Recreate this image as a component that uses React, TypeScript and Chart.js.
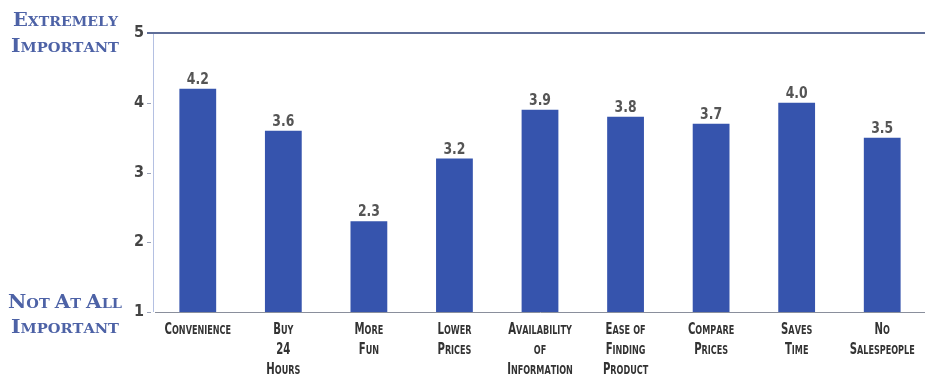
import React, { useEffect, useRef } from "react";
import { Chart, registerables } from "chart.js";

Chart.register(...registerables);

const categories: string[][] = [
  ["Convenience"],
  ["Buy", "24", "Hours"],
  ["More", "Fun"],
  ["Lower", "Prices"],
  ["Availability", "of", "Information"],
  ["Ease of", "Finding", "Product"],
  ["Compare", "Prices"],
  ["Saves", "Time"],
  ["No", "Salespeople"],
];
const values: number[] = [4.2, 3.6, 2.3, 3.2, 3.9, 3.8, 3.7, 4.0, 3.5];
const yTicks: number[] = [1, 2, 3, 4, 5];
const topLabel: string[] = ["Extremely", "Important"];
const bottomLabel: string[] = ["Not At All", "Important"];

const BAR_COLOR = "#3654ad";
const LABEL_BLUE = "#4d62a6";
const SANS = '"DejaVu Sans Condensed", "Liberation Sans Narrow", "DejaVu Sans", sans-serif';
const SERIF = '"DejaVu Serif", "Liberation Serif", serif';

type Piece = { t: string; big: boolean };

function splitSmallCaps(text: string): Piece[] {
  const pieces: Piece[] = [];
  for (const ch of text) {
    const big = ch === " " ? false : ch === ch.toUpperCase() && ch !== ch.toLowerCase() ? true : /[0-9]/.test(ch);
    pieces.push({ t: ch.toUpperCase(), big });
  }
  return pieces;
}

function drawSmallCaps(
  ctx: CanvasRenderingContext2D,
  text: string,
  x: number,
  y: number,
  big: number,
  small: number,
  family: string,
  color: string,
  align: "left" | "center",
  targetWidth?: number,
  squeeze: number = 1
) {
  const pieces = splitSmallCaps(text);
  ctx.save();
  ctx.fillStyle = color;
  ctx.textBaseline = "alphabetic";
  ctx.textAlign = "left";
  let total = 0;
  const widths: number[] = [];
  for (const p of pieces) {
    ctx.font = `bold ${p.big ? big : small}px ${family}`;
    const w = p.t === " " ? small * 0.35 : ctx.measureText(p.t).width;
    widths.push(w);
    total += w;
  }
  const scale = targetWidth ? targetWidth / total : squeeze;
  const drawnW = total * scale;
  const startX = align === "center" ? x - drawnW / 2 : x;
  ctx.translate(startX, y);
  ctx.scale(scale, 1);
  let cx = 0;
  pieces.forEach((p, i) => {
    ctx.font = `bold ${p.big ? big : small}px ${family}`;
    if (p.t !== " ") ctx.fillText(p.t, cx, 0);
    cx += widths[i];
  });
  ctx.restore();
}

const decorPlugin = {
  id: "decor",
  afterDatasetsDraw(chart: any) {
    const ctx: CanvasRenderingContext2D = chart.ctx;
    const meta = chart.getDatasetMeta(0);
    const ys = chart.scales.y;
    const xs = chart.scales.x;
    const area = chart.chartArea;
    // left axis and tick marks
    ctx.save();
    ctx.strokeStyle = "#b4c0e2";
    ctx.lineWidth = 1;
    ctx.beginPath();
    ctx.moveTo(area.left - 1.5, area.top);
    ctx.lineTo(area.left - 1.5, area.bottom);
    ctx.stroke();
    ctx.strokeStyle = "#9aa2b8";
    yTicks.forEach((v) => {
      if (v === 5) return;
      const y = Math.round(ys.getPixelForValue(v)) + 0.5;
      ctx.beginPath();
      ctx.moveTo(area.left - 8, y);
      ctx.lineTo(area.left - 4, y);
      ctx.stroke();
    });
    // top line
    ctx.strokeStyle = "#5f6e98";
    ctx.lineWidth = 2;
    ctx.beginPath();
    ctx.moveTo(area.left - 8, area.top);
    ctx.lineTo(area.right, area.top);
    ctx.stroke();
    ctx.restore();
    // value labels
    ctx.save();
    ctx.fillStyle = "#555";
    ctx.font = `bold 15px ${SANS}`;
    ctx.textAlign = "center";
    ctx.textBaseline = "alphabetic";
    meta.data.forEach((bar: any, i: number) => {
      ctx.save();
      ctx.translate(bar.x, bar.y - 5);
      ctx.scale(0.92, 1);
      ctx.fillText(values[i].toFixed(1), 0, 0);
      ctx.restore();
    });
    ctx.restore();
    // category labels
    categories.forEach((lines, i) => {
      const cx = xs.getPixelForValue(i);
      lines.forEach((line, j) => {
        drawSmallCaps(ctx, line, cx, area.bottom + 22 + j * 20, 15, 12, SANS, "#333", "center", undefined, 0.75);
      });
    });
    // side labels
    const yTop = ys.getPixelForValue(5);
    const yBot = ys.getPixelForValue(1);
    drawSmallCaps(ctx, topLabel[0], 13, yTop - 7, 18, 13, SERIF, LABEL_BLUE, "left", 105);
    drawSmallCaps(ctx, topLabel[1], 11, yTop + 19, 18, 13, SERIF, LABEL_BLUE, "left", 108);
    drawSmallCaps(ctx, bottomLabel[0], 8, yBot - 4, 18, 13, SERIF, LABEL_BLUE, "left", 114);
    drawSmallCaps(ctx, bottomLabel[1], 11, yBot + 21, 18, 13, SERIF, LABEL_BLUE, "left", 108);
  },
};

export default function App() {
  const ref = useRef<HTMLCanvasElement>(null);
  useEffect(() => {
    if (!ref.current) return;
    const chart = new Chart(ref.current, {
      type: "bar",
      data: {
        labels: categories.map((c) => c.join(" ")),
        datasets: [
          {
            data: values,
            backgroundColor: BAR_COLOR,
            borderWidth: 0,
            barPercentage: 0.43,
            categoryPercentage: 1,
          },
        ],
      },
      options: {
        animation: false,
        responsive: false,
        maintainAspectRatio: false,
        layout: { padding: { top: 33, bottom: 55, left: 0, right: 0 } },
        plugins: { legend: { display: false }, tooltip: { enabled: false } },
        scales: {
          x: {
            grid: { display: false },
            ticks: { display: false },
            border: { display: true, color: "#8a8f9c", width: 1 },
          },
          y: {
            min: 1,
            max: 5,
            afterBuildTicks: (scale: any) => {
              scale.ticks = yTicks.map((v) => ({ value: v }));
            },
            afterFit: (scale: any) => {
              scale.width = 155;
            },
            ticks: {
              color: "#444",
              font: { family: SANS, size: 16, weight: "bold" },
              padding: 5,
            },
            grid: { display: false, tickLength: 6 },
            border: { display: false },
          },
        },
      },
      plugins: [decorPlugin],
    });
    return () => chart.destroy();
  }, []);
  return (
    <div style={{ position: "fixed", left: 0, top: 0, width: 925, height: 375, background: "#fff" }}>
      <canvas ref={ref} width={925} height={375} style={{ width: 925, height: 375 }} />
    </div>
  );
}
